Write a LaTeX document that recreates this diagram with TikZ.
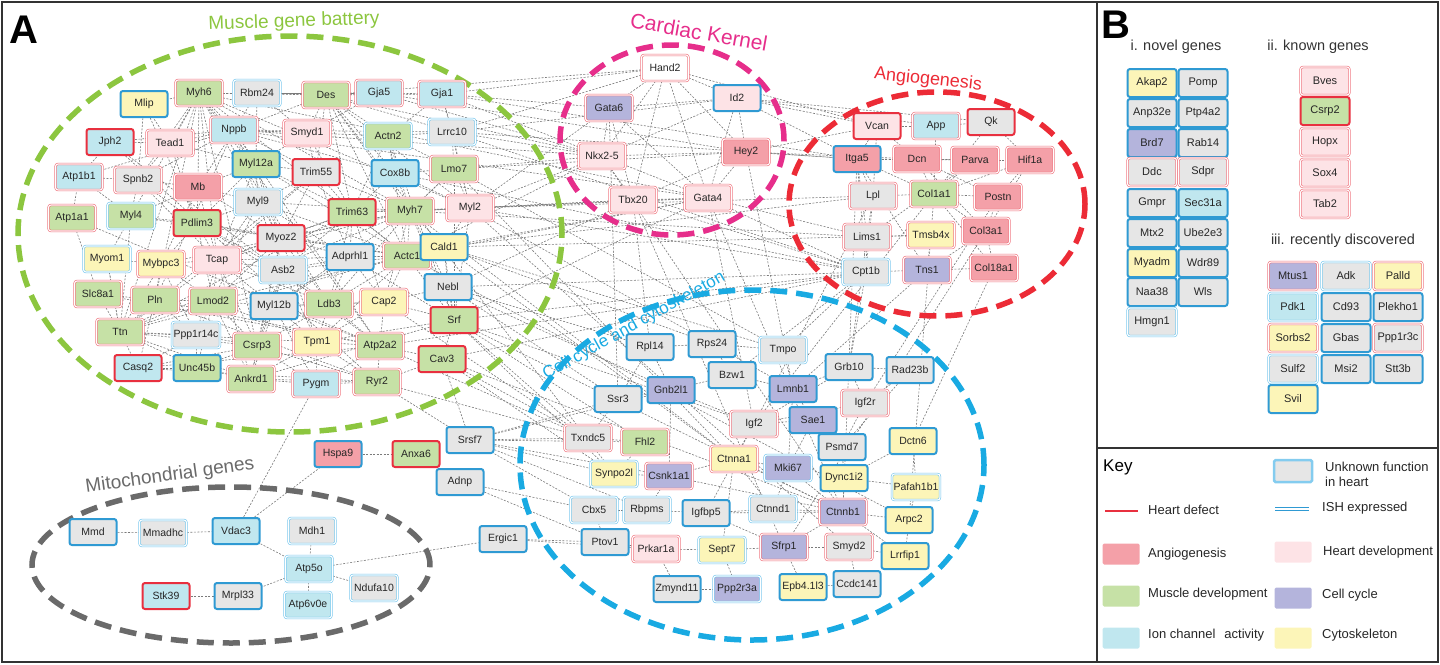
\documentclass[tikz,border=0pt]{standalone}
\usepackage{fontspec}
\setmainfont{Liberation Sans}
\usetikzlibrary{backgrounds}
\definecolor{angio}{HTML}{F4A0A8}
\definecolor{hdev}{HTML}{FDE3E6}
\definecolor{musc}{HTML}{C6E1A6}
\definecolor{ccyc}{HTML}{B4B4DC}
\definecolor{ion}{HTML}{C0E7EF}
\definecolor{cyto}{HTML}{FCF5B8}
\definecolor{unk}{HTML}{E6E6E6}
\definecolor{hred}{HTML}{E8303F}
\definecolor{ishb}{HTML}{2F9AD3}
\definecolor{lblue}{HTML}{6EC3EC}
\definecolor{egreen}{HTML}{8CC63F}
\definecolor{emag}{HTML}{E62E8B}
\definecolor{ered}{HTML}{EC2B36}
\definecolor{eblue}{HTML}{19AAE2}
\definecolor{egray}{HTML}{6A6A6A}
\newcommand\gn[6]{\node[gene,fill=#5,#6] (#1) at (#2,#3) {#4};}
\newcommand\bn[6]{\node[bgene,fill=#5,#6] (#1) at (#2,#3) {#4};}
\tikzset{
 gene/.style={rectangle, rounded corners=2.5pt, minimum width=47pt, minimum height=26pt, inner sep=1.5pt, font=\fontsize{10.5}{12}\selectfont, text=black!85},
 bgene/.style={gene, minimum width=49pt, minimum height=28pt, font=\fontsize{11}{13}\selectfont},
 hR/.style={draw=hred, line width=2pt},
 hB/.style={draw=ishb, line width=2pt},
 hr/.style={draw=hred!72, double=white, double distance=1.1pt, line width=0.6pt},
 hb/.style={draw=lblue, double=white, double distance=1.1pt, line width=0.6pt},
 edge/.style={draw=black!52, dash pattern=on 2pt off 1.5pt, line width=0.6pt},
 ell/.style={line width=5.5pt, dash pattern=on 17pt off 9pt},
 elab/.style={font=\fontsize{19}{19}\selectfont, inner sep=0pt},
 frame/.style={draw=black!80, line width=2pt},
 keyt/.style={anchor=west, font=\fontsize{13}{15}\selectfont, text=black!85, inner sep=0pt},
 sw/.style={minimum width=37pt, minimum height=21pt, inner sep=0pt, rounded corners=1.5pt},
 head/.style={font=\fontsize{14.5}{16}\selectfont, text=black!80, inner sep=0pt},
}
\begin{document}
\begin{tikzpicture}[x=1pt,y=-1pt]
\useasboundingbox (0,0) rectangle (1440,664);
% cluster ellipses
\draw[ell,egreen] (290,234) ellipse [x radius=272pt, y radius=198pt];
\draw[ell,emag] (672,140) ellipse [x radius=112pt, y radius=95pt];
\draw[ell,ered] (937,204) ellipse [x radius=148pt, y radius=112pt];
\draw[ell,eblue] (752,465) ellipse [x radius=232pt, y radius=175pt];
\draw[ell,egray] (231,565) ellipse [x radius=199pt, y radius=78pt];
% cluster labels
\node[elab,text=egreen,rotate=2] (lmus) at (294,22) {Muscle gene battery};
\node[elab,text=emag,rotate=-10,font=\fontsize{21}{21}\selectfont] (lcar) at (699,32) {Cardiac Kernel};
\node[elab,text=ered,rotate=-6,font=\fontsize{18}{18}\selectfont] (lang) at (928,80) {Angiogenesis};
\node[elab,text=eblue,rotate=29,font=\fontsize{17}{17}\selectfont] (lcel) at (634,326) {Cell cycle and cytoskeleton};
\node[elab,text=egray,rotate=8] (lmit) at (170,476) {Mitochondrial genes};
\node[anchor=base west,font=\fontsize{40}{40}\selectfont\bfseries,inner sep=0pt] (labA) at (9,43) {A};
\node[anchor=base west,font=\fontsize{40}{40}\selectfont\bfseries,inner sep=0pt] (labB) at (1101,38) {B};
% muscle gene battery
\gn{Mlip}{144}{104}{Mlip}{cyto}{hB}
\gn{Myh6}{199}{93}{Myh6}{musc}{hr}
\gn{Rbm24}{257}{93}{Rbm24}{unk}{hb}
\gn{Des}{326}{95}{Des}{musc}{hr}
\gn{Gja5}{379}{93}{Gja5}{ion}{hr}
\gn{Gja1}{442}{94}{Gja1}{ion}{hr}
\gn{Nppb}{234}{130}{Nppb}{ion}{hr}
\gn{Smyd1}{307}{133}{Smyd1}{hdev}{hr}
\gn{Jph2}{110}{142}{Jph2}{ion}{hR}
\gn{Tead1}{170}{143}{Tead1}{hdev}{hr}
\gn{Actn2}{388}{136}{Actn2}{musc}{hb}
\gn{Lrrc10}{452}{132}{Lrrc10}{unk}{hb}
\gn{Myl12a}{256}{164}{Myl12a}{musc}{hB}
\gn{Trim55}{316}{172}{Trim55}{unk}{hR}
\gn{Cox8b}{395}{173}{Cox8b}{ion}{hB}
\gn{Lmo7}{454}{169}{Lmo7}{musc}{hr}
\gn{Atp1b1}{79}{177}{Atp1b1}{ion}{hr}
\gn{Spnb2}{138}{180}{Spnb2}{unk}{hr}
\gn{Mb}{198}{187}{Mb}{angio}{hr}
\gn{Myl9}{258}{202}{Myl9}{unk}{hb}
\gn{Trim63}{352}{212}{Trim63}{musc}{hR}
\gn{Myh7}{410}{211}{Myh7}{musc}{hr}
\gn{Myl2}{470}{208}{Myl2}{hdev}{hr}
\gn{Atp1a1}{72}{218}{Atp1a1}{musc}{hr}
\gn{Myl4}{131}{216}{Myl4}{musc}{hb}
\gn{Pdlim3}{197}{223}{Pdlim3}{musc}{hR}
\gn{Myoz2}{281}{238}{Myoz2}{unk}{hR}
\gn{Adprhl1}{350}{257}{Adprhl1}{unk}{hB}
\gn{Actc1}{407}{256}{Actc1}{musc}{hr}
\gn{Cald1}{444}{247}{Cald1}{cyto}{hB}
\gn{Myom1}{107}{259}{Myom1}{cyto}{hb}
\gn{Mybpc3}{161}{264}{Mybpc3}{cyto}{hr}
\gn{Tcap}{217}{260}{Tcap}{hdev}{hr}
\gn{Asb2}{283}{270}{Asb2}{unk}{hb}
\gn{Nebl}{448}{287}{Nebl}{unk}{hB}
\gn{Slc8a1}{98}{294}{Slc8a1}{musc}{hr}
\gn{Pln}{155}{300}{Pln}{musc}{hr}
\gn{Lmod2}{213}{301}{Lmod2}{musc}{hr}
\gn{Myl12b}{274}{306}{Myl12b}{unk}{hB}
\gn{Ldb3}{329}{304}{Ldb3}{musc}{hr}
\gn{Cap2}{384}{302}{Cap2}{cyto}{hr}
\gn{Srf}{454}{320}{Srf}{musc}{hR}
\gn{Ttn}{120}{332}{Ttn}{musc}{hr}
\gn{Ppp1r14c}{196}{335}{Ppp1r14c}{unk}{hb}
\gn{Csrp3}{257}{346}{Csrp3}{musc}{hr}
\gn{Tpm1}{317}{342}{Tpm1}{cyto}{hr}
\gn{Atp2a2}{380}{346}{Atp2a2}{musc}{hr}
\gn{Cav3}{442}{359}{Cav3}{musc}{hR}
\gn{Casq2}{138}{368}{Casq2}{ion}{hR}
\gn{Unc45b}{197}{368}{Unc45b}{musc}{hB}
\gn{Ankrd1}{251}{379}{Ankrd1}{musc}{hr}
\gn{Pygm}{316}{384}{Pygm}{ion}{hr}
\gn{Ryr2}{377}{382}{Ryr2}{musc}{hr}
% cardiac kernel
\gn{Hand2}{665}{68}{Hand2}{white}{hr}
\gn{Gata6}{609}{108}{Gata6}{ccyc}{hr}
\gn{Id2}{737}{98}{Id2}{hdev}{hB}
\gn{Nkx}{602}{156}{Nkx2-5}{hdev}{hr}
\gn{Hey2}{746}{152}{Hey2}{angio}{hr}
\gn{Tbx20}{633}{200}{Tbx20}{hdev}{hr}
\gn{Gata4}{708}{198}{Gata4}{hdev}{hr}
% angiogenesis
\gn{Vcan}{877}{126}{Vcan}{hdev}{hR}
\gn{App}{936}{126}{App}{ion}{hr}
\gn{Qk}{991}{122}{Qk}{unk}{hR}
\gn{Itga5}{857}{159}{Itga5}{angio}{hB}
\gn{Dcn}{917}{159}{Dcn}{angio}{hr}
\gn{Parva}{975}{160}{Parva}{angio}{hr}
\gn{Hif1a}{1030}{160}{Hif1a}{angio}{hr}
\gn{Lpl}{873}{196}{Lpl}{unk}{hr}
\gn{Col1a1}{934}{194}{Col1a1}{musc}{hr}
\gn{Postn}{998}{197}{Postn}{angio}{hr}
\gn{Lims1}{867}{237}{Lims1}{unk}{hr}
\gn{Tmsb4x}{931}{235}{Tmsb4x}{cyto}{hr}
\gn{Col3a1}{986}{231}{Col3a1}{angio}{hr}
\gn{Cpt1b}{866}{272}{Cpt1b}{unk}{hb}
\gn{Tns1}{927}{270}{Tns1}{ccyc}{hr}
\gn{Col18a1}{994}{268}{Col18a1}{angio}{hr}
% cell cycle and cytoskeleton
\gn{Rpl14}{650}{347}{Rpl14}{unk}{hB}
\gn{Rps24}{712}{344}{Rps24}{unk}{hB}
\gn{Tmpo}{783}{350}{Tmpo}{unk}{hb}
\gn{Bzw1}{732}{375}{Bzw1}{unk}{hB}
\gn{Gnb2l1}{671}{390}{Gnb2l1}{ccyc}{hB}
\gn{Lmnb1}{793}{389}{Lmnb1}{ccyc}{hB}
\gn{Grb10}{849}{367}{Grb10}{unk}{hB}
\gn{Rad23b}{910}{370}{Rad23b}{unk}{hB}
\gn{Ssr3}{618}{399}{Ssr3}{unk}{hB}
\gn{Igf2r}{865}{403}{Igf2r}{unk}{hr}
\gn{Igf2}{754}{424}{Igf2}{unk}{hr}
\gn{Sae1}{813}{420}{Sae1}{ccyc}{hB}
\gn{Txndc5}{588}{438}{Txndc5}{unk}{hr}
\gn{Fhl2}{645}{442}{Fhl2}{musc}{hr}
\gn{Psmd7}{842}{447}{Psmd7}{unk}{hB}
\gn{Dctn6}{913}{441}{Dctn6}{cyto}{hB}
\gn{Ctnna1}{734}{459}{Ctnna1}{cyto}{hr}
\gn{Synpo2l}{614}{474}{Synpo2l}{cyto}{hb}
\gn{Csnk1a1}{669}{476}{Csnk1a1}{ccyc}{hr}
\gn{Mki67}{788}{468}{Mki67}{ccyc}{hb}
\gn{Dync1i2}{844}{478}{Dync1i2}{cyto}{hB}
\gn{Pafah1b1}{916}{487}{Pafah1b1}{cyto}{hb}
\gn{Cbx5}{594}{510}{Cbx5}{unk}{hb}
\gn{Rbpms}{647}{510}{Rbpms}{unk}{hb}
\gn{Igfbp5}{706}{513}{Igfbp5}{unk}{hB}
\gn{Ctnnd1}{773}{509}{Ctnnd1}{unk}{hb}
\gn{Ctnnb1}{843}{512}{Ctnnb1}{ccyc}{hr}
\gn{Arpc2}{909}{520}{Arpc2}{cyto}{hB}
\gn{Ptov1}{605}{542}{Ptov1}{unk}{hB}
\gn{Prkar1a}{656}{549}{Prkar1a}{hdev}{hr}
\gn{Sept7}{722}{550}{Sept7}{cyto}{hb}
\gn{Sfrp1}{784}{547}{Sfrp1}{ccyc}{hr}
\gn{Smyd2}{849}{547}{Smyd2}{unk}{hr}
\gn{Lrrfip1}{905}{556}{Lrrfip1}{cyto}{hB}
\gn{Zmynd11}{677}{589}{Zmynd11}{unk}{hB}
\gn{Ppp2r3a}{737}{589}{Ppp2r3a}{ccyc}{hb}
\gn{Epb}{803}{587}{Epb4.1l3}{cyto}{hB}
\gn{Ccdc141}{857}{584}{Ccdc141}{unk}{hB}
% middle and mitochondrial
\gn{Srsf7}{470}{440}{Srsf7}{unk}{hB}
\gn{Hspa9}{338}{454}{Hspa9}{angio}{hB}
\gn{Anxa6}{416}{454}{Anxa6}{musc}{hR}
\gn{Adnp}{460}{482}{Adnp}{unk}{hB}
\gn{Ergic1}{503}{539}{Ergic1}{unk}{hB}
\gn{Mmd}{93}{532}{Mmd}{unk}{hB}
\gn{Mmadhc}{163}{533}{Mmadhc}{unk}{hb}
\gn{Vdac3}{236}{531}{Vdac3}{ion}{hB}
\gn{Mdh1}{312}{531}{Mdh1}{unk}{hb}
\gn{Atp5o}{309}{569}{Atp5o}{ion}{hb}
\gn{Ndufa10}{374}{588}{Ndufa10}{unk}{hb}
\gn{Stk39}{166}{596}{Stk39}{ion}{hR}
\gn{Mrpl33}{238}{596}{Mrpl33}{unk}{hB}
\gn{Atp6v0e}{308}{605}{Atp6v0e}{ion}{hb}
% interactions
\begin{pgfonlayer}{background}
\foreach \a/\b in {Myh6/Myh7, Myh6/Des, Myh6/Nppb, Myh6/Tcap, Myh6/Actc1, Myh6/Myl2, Myh6/Myl4, Myh6/Atp2a2, Myh6/Pln, Myh6/Ttn, Myh6/Mlip, Myh6/Rbm24, Myh6/Gja5, Myh6/Tead1, Myh6/Myl12a, Myh6/Mb, Myh6/Ldb3, Myh6/Csrp3, Myh6/Myl9, Myh6/Spnb2,
Myh7/Actc1, Myh7/Myl2, Myh7/Tcap, Myh7/Ttn, Myh7/Myoz2, Myh7/Ldb3, Myh7/Des, Myh7/Actn2, Myh7/Lmo7, Myh7/Trim63, Myh7/Trim55, Myh7/Myl12b, Myh7/Cap2, Myh7/Srf, Myh7/Cald1, Myh7/Nebl, Myh7/Mybpc3, Myh7/Myl9,
Actc1/Tcap, Actc1/Ttn, Actc1/Des, Actc1/Srf, Actc1/Actn2, Actc1/Myl12a, Actc1/Myl9, Actc1/Myoz2, Actc1/Asb2, Actc1/Cap2, Actc1/Tpm1, Actc1/Lmod2, Actc1/Ldb3, Actc1/Trim63, Actc1/Adprhl1, Actc1/Myl4, Actc1/Pdlim3,
Ttn/Tcap, Ttn/Slc8a1, Ttn/Pln, Ttn/Mybpc3, Ttn/Myom1, Ttn/Lmod2, Ttn/Ppp1r14c, Ttn/Casq2, Ttn/Ankrd1, Ttn/Csrp3, Ttn/Tpm1, Ttn/Unc45b, Ttn/Myl4, Ttn/Trim63, Ttn/Trim55,
Tcap/Myoz2, Tcap/Asb2, Tcap/Myl12b, Tcap/Lmod2, Tcap/Ldb3, Tcap/Csrp3, Tcap/Ankrd1, Tcap/Pdlim3, Tcap/Mybpc3, Tcap/Spnb2, Tcap/Mb, Tcap/Trim63, Tcap/Trim55,
Nppb/Smyd1, Nppb/Myl12a, Nppb/Trim55, Nppb/Tead1, Nppb/Spnb2, Nppb/Jph2, Nppb/Atp1b1, Nppb/Myl9, Nppb/Des, Nppb/Cox8b, Nppb/Lrrc10, Nppb/Actn2, Nppb/Atp2a2, Nppb/Pln,
Atp2a2/Pln, Atp2a2/Ryr2, Atp2a2/Casq2, Atp2a2/Cav3, Atp2a2/Slc8a1, Atp2a2/Atp1a1, Atp2a2/Jph2, Atp2a2/Myl12b, Atp2a2/Tpm1, Atp2a2/Pygm, Atp2a2/Cap2, Atp2a2/Ldb3,
Des/Smyd1, Des/Gja5, Des/Gja1, Des/Actn2, Des/Lrrc10, Des/Cox8b, Des/Trim63, Des/Myl2, Des/Rbm24, Des/Trim55,
Srf/Cald1, Srf/Nebl, Srf/Cav3, Srf/Cap2, Srf/Actn2, Srf/Lmo7, Srf/Myl2, Srf/Myl9, Srf/Tpm1, Srf/Ankrd1,
Csrp3/Ankrd1, Csrp3/Pygm, Csrp3/Ryr2, Csrp3/Unc45b, Csrp3/Lmod2, Csrp3/Ldb3, Csrp3/Myl12b, Csrp3/Casq2, Csrp3/Ppp1r14c,
Ldb3/Pdlim3, Ldb3/Myoz2, Ldb3/Asb2, Ldb3/Trim63, Ldb3/Adprhl1, Ldb3/Cap2,
Myl2/Lmo7, Myl2/Lrrc10, Myl2/Cox8b, Myl2/Trim63, Myl2/Gja1, Myl2/Cald1,
Atp1a1/Atp1b1, Atp1a1/Slc8a1, Myom1/Mybpc3, Slc8a1/Pln, Jph2/Tead1, Mlip/Spnb2, Mlip/Pdlim3, Mb/Pdlim3, Myl4/Pdlim3, Myl4/Mb, Ryr2/Pygm, Casq2/Unc45b, Gja5/Gja1, Rbm24/Gja5, Atp1b1/Spnb2, Myom1/Ttn, Myom1/Myl4, Ryr2/Cav3, Ryr2/Casq2, Pln/Casq2, Pln/Ryr2, Jph2/Ryr2, Lmod2/Myl12b, Adprhl1/Myoz2, Adprhl1/Myl12b, Asb2/Myl12b, Cox8b/Lmo7, Cox8b/Actn2, Lrrc10/Gja1, Smyd1/Trim55, Myl12a/Myl9, Myl12a/Trim55, Unc45b/Ankrd1, Ankrd1/Pygm, Ppp1r14c/Lmod2, Cald1/Nebl, Cald1/Actc1, Nebl/Cap2}
 \draw[edge] (\a) -- (\b);
\foreach \a/\b in {Myoz2/Pdlim3, Myoz2/Myl12a, Myoz2/Myl9, Myoz2/Trim55, Myoz2/Trim63, Myoz2/Lmod2, Myoz2/Csrp3, Myoz2/Ankrd1, Myoz2/Tpm1, Myoz2/Mb, Myoz2/Nppb, Myl9/Pdlim3, Myl9/Mb, Myl9/Tcap, Myl9/Asb2, Myl9/Trim55, Myl9/Lmod2, Myl12a/Mb, Myl12a/Pdlim3, Myl12a/Tcap, Myl12a/Asb2, Myl12a/Trim63, Myl12a/Smyd1, Lmod2/Pdlim3, Lmod2/Mybpc3, Lmod2/Pln, Lmod2/Tpm1, Lmod2/Ankrd1, Lmod2/Unc45b, Asb2/Pdlim3, Asb2/Csrp3, Asb2/Trim63, Asb2/Tpm1, Pdlim3/Mybpc3, Pdlim3/Spnb2, Pdlim3/Tead1, Mb/Spnb2, Mb/Mybpc3, Mb/Nppb, Mybpc3/Pln, Mybpc3/Ppp1r14c, Myl12b/Tpm1, Myl12b/Ankrd1, Myl12b/Pygm, Myl12b/Cap2, Trim63/Trim55, Trim63/Adprhl1, Trim63/Cap2, Trim63/Smyd1, Trim55/Adprhl1, Tpm1/Cap2, Tpm1/Ryr2, Tpm1/Pygm, Tpm1/Ankrd1, Ppp1r14c/Unc45b, Ppp1r14c/Casq2, Ppp1r14c/Tcap, Ppp1r14c/Pln, Ankrd1/Ryr2, Spnb2/Tead1, Spnb2/Myl4, Atp1b1/Jph2, Atp1b1/Myl4, Tead1/Mlip, Tead1/Myl12a, Rbm24/Myl12a, Rbm24/Nppb, Rbm24/Smyd1, Gja5/Smyd1, Gja1/Actn2, Lrrc10/Actn2, Lrrc10/Lmo7, Actn2/Trim63, Actn2/Lmo7, Cox8b/Trim63, Cox8b/Myh7, Lmo7/Myh7, Adprhl1/Asb2, Adprhl1/Cap2, Ldb3/Tpm1, Ldb3/Myl12b}
 \draw[edge] (\a) -- (\b);
\foreach \a/\b in {Gata4/Nkx, Gata4/Tbx20, Gata4/Hand2, Gata4/Gata6, Gata4/Hey2, Gata4/Myl2, Gata4/Nppb, Gata4/Myh6, Gata4/Myh7, Gata4/Actc1, Gata4/Srf, Gata4/Id2, Gata4/Cald1, Gata4/Lims1, Gata4/Cpt1b,
Nkx/Hand2, Nkx/Tbx20, Nkx/Gata6, Nkx/Hey2, Nkx/Gja5, Nkx/Gja1, Nkx/Lrrc10, Nkx/Myl2, Nkx/Lmo7, Nkx/Id2, Nkx/Nppb, Nkx/Des, Nkx/Actc1,
Hand2/Gata6, Hand2/Tbx20, Hand2/Hey2, Hand2/Id2, Hand2/Gja1, Hand2/Lrrc10, Hand2/Vcan, Hand2/Des,
Hey2/Id2, Hey2/Tbx20, Hey2/Itga5, Hey2/Dcn, Hey2/Vcan, Hey2/Lmo7, Hey2/Gja5,
Tbx20/Gata6, Tbx20/Myl2, Tbx20/Nebl, Tbx20/Cpt1b, Tbx20/Myh7, Gata6/Gja1, Gata6/Id2, Gata6/Myl2,
Id2/Vcan, Id2/Itga5, Id2/Qk, Id2/App, Id2/Lrrc10,
Itga5/Dcn, Itga5/Parva, Itga5/Lims1, Itga5/Tns1, Itga5/Lpl, Itga5/Col1a1, Itga5/Vcan, Itga5/Cpt1b, Itga5/Gja1, Itga5/Lrrc10,
Col1a1/Dcn, Col1a1/Col3a1, Col1a1/Postn, Col1a1/Tmsb4x, Col1a1/Parva, Col1a1/Lpl, Col1a1/Col18a1, Col1a1/App, Col1a1/Qk, Col1a1/Hif1a,
Col3a1/Postn, Col3a1/Col18a1, Col3a1/Hif1a, Col3a1/Tns1, Col3a1/Dcn, Parva/Hif1a, Parva/Lims1, Parva/Dcn, Lims1/Tmsb4x, Lims1/Lpl, Lims1/Cpt1b, Tns1/Cpt1b, Tns1/Tmsb4x, Tns1/Col18a1, Cpt1b/Myl2, Cpt1b/Atp2a2, Cpt1b/Cox8b, Cpt1b/Lrrc10, Cpt1b/Srf, Cpt1b/Nebl, Cpt1b/Cav3, Cpt1b/Lpl, Lpl/Cald1, Lpl/Myl2, Lpl/Vcan, Hif1a/Qk, Hif1a/Postn, Vcan/App, Vcan/Dcn, Dcn/Postn, App/Qk, Lims1/Myh7, Tmsb4x/Cald1}
 \draw[edge] (\a) -- (\b);
\foreach \a/\b in {Rpl14/Rps24, Rps24/Bzw1, Rpl14/Gnb2l1, Gnb2l1/Ssr3, Gnb2l1/Bzw1, Bzw1/Lmnb1, Tmpo/Lmnb1, Tmpo/Rps24, Lmnb1/Sae1, Lmnb1/Mki67, Grb10/Rad23b, Grb10/Igf2r, Grb10/Igf2, Igf2/Igf2r, Igf2/Igfbp5, Igf2/Ctnna1, Sae1/Psmd7, Psmd7/Rad23b, Psmd7/Dync1i2, Dctn6/Pafah1b1, Dctn6/Dync1i2, Dync1i2/Pafah1b1, Dync1i2/Ctnnb1, Ctnnb1/Ctnna1, Ctnnb1/Ctnnd1, Ctnnb1/Sfrp1, Ctnnb1/Csnk1a1, Ctnnb1/Mki67, Ctnnb1/Arpc2, Ctnnb1/Lrrfip1, Ctnna1/Csnk1a1, Ctnna1/Ctnnd1, Ctnna1/Mki67, Mki67/Ctnnd1, Synpo2l/Csnk1a1, Synpo2l/Fhl2, Fhl2/Txndc5, Txndc5/Ssr3, Cbx5/Rbpms, Rbpms/Igfbp5, Igfbp5/Ctnnd1, Ptov1/Prkar1a, Prkar1a/Sept7, Sept7/Sfrp1, Sfrp1/Smyd2, Smyd2/Lrrfip1, Smyd2/Ccdc141, Epb/Ccdc141, Epb/Sfrp1, Zmynd11/Ppp2r3a, Ppp2r3a/Sept7, Zmynd11/Prkar1a, Arpc2/Pafah1b1, Arpc2/Lrrfip1, Ptov1/Cbx5, Ssr3/Rpl14, Igf2r/Rad23b, Csnk1a1/Rbpms, Gnb2l1/Csnk1a1, Gnb2l1/Igf2, Mki67/Sae1, Ctnnb1/Igfbp5, Ctnna1/Sept7, Sfrp1/Igfbp5, Rps24/Lmnb1, Igf2/Sae1, Igf2r/Psmd7, Grb10/Lmnb1,
Srsf7/Txndc5, Srsf7/Synpo2l, Srsf7/Cbx5, Srsf7/Rbpms, Srsf7/Csnk1a1, Srsf7/Fhl2, Srsf7/Ssr3, Srsf7/Ryr2, Srsf7/Cav3, Srsf7/Gnb2l1, Adnp/Cbx5, Adnp/Ptov1, Ergic1/Ptov1, Ergic1/Prkar1a, Srf/Fhl2, Srf/Ctnnb1, Srf/Igf2, Srf/Txndc5, Srf/Synpo2l, Cav3/Ctnnb1, Cav3/Synpo2l, Cav3/Txndc5, Nebl/Ssr3, Nebl/Rpl14, Nebl/Gnb2l1, Cald1/Ctnna1, Cald1/Tmpo, Cald1/Rps24, Myl2/Smyd2, Myl2/Rps24, Atp2a2/Txndc5, Actc1/Arpc2, Lmo7/Tmpo, Des/Synpo2l, Gata4/Ctnnb1, Gata4/Igf2, Tbx20/Sfrp1, Hey2/Lmnb1, Col1a1/Igf2, Lims1/Grb10, Itga5/Ctnnb1, Tns1/Lmnb1, Col3a1/Sfrp1, Postn/Igf2r, Col18a1/Dctn6, Tmsb4x/Arpc2, Lpl/Igf2, Cpt1b/Tmpo, Cpt1b/Bzw1, Cpt1b/Grb10, Nkx/Ctnnb1, Gata6/Ssr3, Tbx20/Rpl14, Lmo7/Ctnna1, Myh7/Ctnna1, Cap2/Txndc5, Ryr2/Txndc5,
Mmd/Mmadhc, Mmadhc/Vdac3, Vdac3/Atp5o, Mdh1/Atp5o, Atp5o/Atp6v0e, Atp5o/Ndufa10, Atp5o/Mrpl33, Mrpl33/Stk39, Atp5o/Ergic1, Vdac3/Hspa9, Vdac3/Pygm, Hspa9/Anxa6}
 \draw[edge] (\a) -- (\b);
\end{pgfonlayer}
% panel B
\node[head] (hnov) at (1176,47) {i. novel genes};
\node[head] (hkno) at (1318,47) {ii. known genes};
\node[head] (hrec) at (1343,241) {iii. recently discovered};
\bn{xAkap2}{1152}{83}{Akap2}{cyto}{hB}
\bn{xPomp}{1203}{83}{Pomp}{unk}{hB}
\bn{xAnp32e}{1152}{113}{Anp32e}{unk}{hB}
\bn{xPtp4a2}{1203}{113}{Ptp4a2}{unk}{hB}
\bn{xBrd7}{1152}{143}{Brd7}{ccyc}{hB}
\bn{xRab14}{1203}{143}{Rab14}{unk}{hB}
\bn{xDdc}{1152}{172}{Ddc}{unk}{hr}
\bn{xSdpr}{1203}{172}{Sdpr}{unk}{hr}
\bn{xGmpr}{1152}{203}{Gmpr}{unk}{hB}
\bn{xSec31a}{1203}{203}{Sec31a}{ion}{hB}
\bn{xMtx2}{1152}{233}{Mtx2}{unk}{hB}
\bn{xUbe2e3}{1203}{233}{Ube2e3}{unk}{hB}
\bn{xMyadm}{1152}{263}{Myadm}{cyto}{hB}
\bn{xWdr89}{1203}{263}{Wdr89}{unk}{hB}
\bn{xNaa38}{1152}{292}{Naa38}{unk}{hB}
\bn{xWls}{1203}{292}{Wls}{unk}{hB}
\bn{xHmgn1}{1152}{322}{Hmgn1}{unk}{hb}
\bn{xBves}{1325}{81}{Bves}{hdev}{hr}
\bn{xCsrp2}{1325}{111}{Csrp2}{musc}{hR}
\bn{xHopx}{1325}{142}{Hopx}{hdev}{hr}
\bn{xSox4}{1325}{173}{Sox4}{hdev}{hr}
\bn{xTab2}{1325}{204}{Tab2}{hdev}{hr}
\bn{xMtus1}{1293}{276}{Mtus1}{ccyc}{hr}
\bn{xAdk}{1346}{276}{Adk}{unk}{hb}
\bn{xPalld}{1398}{276}{Palld}{cyto}{hr}
\bn{xPdk1}{1293}{307}{Pdk1}{ion}{hb}
\bn{xCd93}{1346}{307}{Cd93}{unk}{hB}
\bn{xPlekho1}{1398}{307}{Plekho1}{unk}{hB}
\bn{xSorbs2}{1293}{338}{Sorbs2}{cyto}{hr}
\bn{xGbas}{1346}{338}{Gbas}{unk}{hB}
\bn{xPpp1r3c}{1398}{338}{Ppp1r3c}{unk}{hr}
\bn{xSulf2}{1293}{369}{Sulf2}{unk}{hb}
\bn{xMsi2}{1346}{369}{Msi2}{unk}{hB}
\bn{xStt3b}{1398}{369}{Stt3b}{unk}{hB}
\bn{xSvil}{1293}{399}{Svil}{cyto}{hB}
% key
\node[anchor=west,font=\fontsize{17}{17}\selectfont,inner sep=0pt] (kkey) at (1103,467) {Key};
\node[sw,fill=unk,draw=lblue!85,line width=2.5pt,minimum width=38pt,minimum height=22pt] (kunk) at (1293,471) {};
\node[keyt,align=left] (kunkt) at (1325,474) {Unknown function\\in heart};
\coordinate (hd1) at (1105,511);
\coordinate (hd2) at (1138,511);
\draw[hred,line width=2pt] (hd1) -- (hd2);
\node[keyt] (khd) at (1148,510) {Heart defect};
\coordinate (is1) at (1275,509);
\coordinate (is2) at (1309,509);
\draw[ishb,double=white,double distance=1.5pt,line width=1.6pt] (is1) -- (is2);
\node[keyt] (kish) at (1322,508) {ISH expressed};
\node[sw,fill=angio] (kang) at (1121,554) {};
\node[keyt] (kangt) at (1148,554) {Angiogenesis};
\node[sw,fill=hdev] (khdev) at (1293,552) {};
\node[keyt] (khdevt) at (1323,552) {Heart development};
\node[sw,fill=musc] (kmus) at (1121,596) {};
\node[keyt] (kmust) at (1148,594) {Muscle development};
\node[sw,fill=ccyc] (kcc) at (1293,598) {};
\node[keyt] (kcct) at (1322,595) {Cell cycle};
\node[sw,fill=ion] (kion) at (1121,638) {};
\node[keyt] (kiont) at (1148,635) {Ion channel\hspace{9pt}activity};
\node[sw,fill=cyto] (kcyt) at (1293,638) {};
\node[keyt] (kcytt) at (1322,635) {Cytoskeleton};
% frames
\draw[frame] (2,2) rectangle (1438,662);
\draw[frame] (1097,2) -- (1097,662);
\draw[frame] (1097,448) -- (1438,448);
\end{tikzpicture}
\end{document}
